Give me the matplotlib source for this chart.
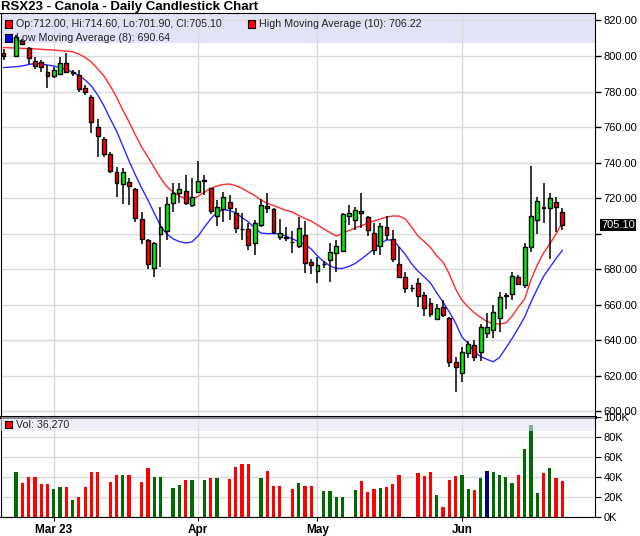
import numpy as np
import pandas as pd
import matplotlib
matplotlib.use("Agg")
import matplotlib.pyplot as plt
from matplotlib.patches import Rectangle
from matplotlib.ticker import FuncFormatter
import matplotlib.transforms as mtransforms

plt.rcParams['font.family'] = ['Liberation Sans', 'DejaVu Sans']

nan = np.nan

# daily bars, one slot per trading day (Feb 17 .. Jun 23, 2023)
opens = [801.9, nan, 800.2, 808.5, 804.3, 797.2, 796.5, 791.0, 788.9, 789.9,
         796.2, 790.7, 789.3, 781.8, 777.1, 759.9, 753.3, 744.7, 734.6, 727.9,
         729.3, 725.0, 708.1, 696.5, 680.6, 699.7, 701.6, 717.1, 722.8, 724.2,
         716.2, 723.7, 729.8, 725.6, 710.0, 713.8, 717.8, 711.5, 702.6, 702.5,
         694.7, 704.9, 715.8, 713.8, 698.0, 698.0, 695.3, 693.2, 699.3, 684.0,
         679.0, 682.9, 685.2, 688.9, 690.3, 710.0, 707.7, 712.8, 709.7, 700.6,
         693.2, 704.0, 696.9, 682.8, 675.9, 669.4, 672.1, 665.6, 660.9, 651.9,
         658.6, 652.5, 628.1, 621.8, 632.8, 637.4, 633.3, 644.4, 645.9, 652.5,
         665.1, 666.0, 675.9, 671.2, 692.7, 707.7, 714.8, 714.7, 717.8, 712.0]
highs = [803.8, nan, 811.8, 809.5, 804.9, 799.6, 797.7, 794.9, 794.0, 799.6,
         801.5, 792.1, 792.1, 783.7, 778.1, 764.4, 754.6, 745.9, 737.7, 737.2,
         731.5, 725.6, 712.4, 696.9, 695.6, 715.2, 720.9, 728.4, 728.4, 733.1,
         731.2, 740.9, 733.1, 726.0, 719.0, 723.7, 722.0, 714.3, 711.7, 706.0,
         707.7, 719.4, 722.8, 714.7, 708.2, 704.0, 701.6, 709.7, 707.2, 686.0,
         687.1, 684.5, 694.7, 696.5, 711.8, 716.2, 715.2, 722.8, 710.0, 705.9,
         706.0, 710.0, 702.1, 692.7, 678.7, 671.0, 674.9, 667.4, 663.7, 660.5,
         662.8, 653.0, 630.9, 636.5, 639.8, 640.2, 649.2, 655.2, 659.9, 667.4,
         666.5, 678.2, 677.0, 694.7, 738.1, 720.9, 728.4, 722.8, 720.5, 714.6]
lows = [797.7, nan, 799.7, 806.0, 795.5, 792.5, 791.2, 781.8, 787.5, 789.3,
        790.3, 788.5, 779.9, 778.1, 756.9, 743.4, 743.4, 734.4, 720.5, 716.6,
        716.0, 706.8, 694.2, 680.0, 675.9, 681.5, 696.5, 712.4, 717.5, 716.2,
        715.2, 722.8, 721.8, 711.0, 704.4, 706.8, 708.0, 700.4, 696.5, 691.0,
        688.0, 704.0, 711.5, 700.0, 696.5, 696.0, 688.9, 691.8, 677.8, 677.5,
        672.1, 681.0, 673.0, 678.7, 689.8, 704.9, 702.1, 703.1, 699.0, 688.0,
        688.0, 696.5, 684.3, 675.0, 666.5, 667.5, 659.0, 653.8, 653.0, 651.5,
        653.0, 625.3, 611.1, 616.8, 629.9, 628.6, 628.6, 641.2, 641.2, 644.9,
        657.5, 662.8, 671.0, 669.3, 689.9, 699.9, 705.9, 685.6, 701.2, 701.9]
closes = [800.2, nan, 810.9, 807.0, 798.7, 794.4, 793.6, 788.9, 792.1, 796.2,
          790.8, 791.0, 781.3, 779.6, 762.7, 755.2, 744.7, 735.5, 728.7, 734.6,
          726.9, 708.7, 696.9, 682.8, 694.7, 704.0, 716.6, 723.1, 725.0, 717.5,
          720.9, 729.4, 730.0, 713.0, 714.9, 720.5, 714.3, 703.1, 702.4, 693.7,
          705.9, 716.2, 714.3, 701.2, 700.3, 697.8, 695.1, 703.1, 683.7, 682.3,
          682.3, 683.1, 689.6, 693.1, 711.0, 711.5, 713.4, 711.5, 702.1, 690.9,
          704.4, 699.3, 685.6, 675.9, 669.3, 669.3, 665.0, 658.1, 654.9, 658.4,
          654.3, 628.1, 624.9, 633.6, 638.0, 630.8, 647.4, 647.4, 656.2, 664.6,
          665.3, 676.5, 671.8, 692.7, 710.2, 718.6, 714.6, 720.3, 714.9, 705.1]
volume = [0, 0, 45300, 34300, 40000, 40000, 33000, 33000, 28000, 30000,
          30000, 17300, 20000, 30000, 45300, 45300, 0, 35300, 42000, 42000,
          42000, 0, 35300, 49000, 40000, 40000, 0, 29000, 32000, 37000,
          37000, 0, 37000, 39000, 39000, 0, 38000, 50000, 53000, 53000,
          0, 39000, 46000, 31000, 31000, 0, 28000, 34000, 31000, 31000,
          0, 26000, 26000, 19700, 19700, 0, 27000, 36000, 25000, 28000,
          29000, 30000, 33000, 42000, 0, 0, 44000, 41000, 45000, 22000,
          10000, 37000, 41000, 42000, 28000, 27000, 39000, 46000, 45000, 42000,
          40000, 34000, 42000, 68000, 92000, 24000, 44000, 49000, 39000, 36270]
high_ma = [804.8, 804.6, 804.5, 804.3, 804.2, 804.0, 803.8, 803.5, 803.4, 803.1,
           802.7, 802.4, 801.1, 799.2, 796.6, 792.7, 788.8, 783.1, 776.9, 769.6,
           762.9, 755.6, 748.8, 743.2, 737.3, 731.4, 726.6, 723.5, 721.2, 719.8,
           719.6, 721.0, 723.5, 725.5, 726.9, 727.7, 728.0, 727.1, 725.5, 723.5,
           721.5, 719.0, 717.1, 715.9, 714.5, 713.1, 712.2, 710.3, 708.6, 707.2,
           704.9, 702.7, 700.7, 698.7, 700.1, 701.8, 703.2, 704.6, 705.9, 707.2,
           708.3, 709.4, 710.0, 709.9, 708.3, 703.8, 698.7, 695.6, 692.3, 687.5,
           684.1, 677.4, 668.9, 662.7, 658.8, 655.4, 652.9, 650.6, 649.5, 649.2,
           649.8, 653.7, 658.8, 663.3, 674.0, 682.4, 689.2, 694.2, 699.9, 706.22]
low_ma = [793.5, 793.7, 794.0, 794.4, 795.2, 795.8, 795.6, 794.9, 794.4, 793.4,
          792.4, 791.0, 789.0, 786.5, 783.1, 778.1, 771.9, 764.6, 757.8, 749.4,
          740.9, 733.1, 725.7, 719.0, 711.7, 704.4, 699.9, 697.1, 695.6, 694.8,
          695.4, 698.7, 703.8, 708.3, 712.2, 713.6, 713.1, 711.7, 709.1, 706.6,
          703.2, 700.4, 700.1, 700.1, 699.9, 698.7, 697.1, 695.6, 694.2, 691.4,
          687.5, 684.4, 681.9, 680.5, 680.5, 681.6, 683.3, 685.8, 688.6, 691.4,
          694.5, 696.5, 696.5, 692.6, 688.3, 683.0, 679.0, 675.7, 672.3, 666.7,
          661.6, 656.0, 649.8, 641.9, 638.3, 633.5, 630.9, 629.3, 628.0, 630.4,
          635.7, 641.1, 647.0, 653.2, 661.6, 668.9, 676.0, 681.0, 686.1, 690.64]

month_pos = [8, 31, 50, 73]
month_labels = ["Mar 23", "Apr", "May", "Jun"]

opens, highs, lows, closes = (np.array(a, dtype=float) for a in (opens, highs, lows, closes))
volume = np.array(volume, dtype=float)
x = np.arange(len(closes))
valid = ~np.isnan(closes)
last = closes[-1]

W, H = 640, 536


def box(l, t, r, b):
    return [l / W, 1 - b / H, (r - l) / W, (b - t) / H]


fig = plt.figure(figsize=(W / 100, H / 100), dpi=100)
ax = fig.add_axes(box(0.5, 13, 595, 417))
axv = fig.add_axes(box(0.5, 417, 595, 517))

grid_c = "#dadada"
band_c = "#e3e3f7"

# price panel
ax.set_xlim(-0.48, 94.2)
ax.set_ylim(596.9, 824.2)
ax.add_patch(Rectangle((0, 1 - 30 / 404), 1, 30 / 404, transform=ax.transAxes,
                       facecolor=band_c, edgecolor="none", zorder=0.5))
ax.set_yticks(np.arange(600, 821, 20))
ax.set_xticks(month_pos)
ax.grid(True, color=grid_c, lw=1, zorder=0)
ax.set_axisbelow(True)
ax.yaxis.tick_right()
# the last-price tag hides the label it sits on
ax.yaxis.set_major_formatter(FuncFormatter(lambda v, p: "" if abs(v - last) < 10 else f"{v:.2f}"))
ax.tick_params(axis="y", length=4, width=1, labelsize=8, pad=2)
ax.tick_params(axis="x", length=0, labelbottom=False)

ax.plot(x, high_ma, color="#ff2a2a", lw=1, zorder=2.5)
ax.plot(x, low_ma, color="#2a2aff", lw=1, zorder=2.5)

ax.vlines(x[valid], lows[valid], highs[valid], color="black", lw=1.1, zorder=3)
up = closes >= opens
body_bottom = np.minimum(opens, closes)
body_h = np.maximum(np.abs(closes - opens), 0.05)
ax.bar(x[valid], body_h[valid], bottom=body_bottom[valid], width=0.62,
       color=np.where(up, "#00ee00", "#ff0000")[valid], edgecolor="black",
       linewidth=1, zorder=4)

# last price tag
trans = mtransforms.blended_transform_factory(ax.transAxes, ax.transData)
ax.text(1.01, last, f"{last:.2f}", transform=trans, fontsize=8,
        color="#fffff0", va="center", ha="left", zorder=10, clip_on=False,
        bbox=dict(boxstyle="square,pad=0.1", facecolor="black", edgecolor="none"))

# volume panel
prev = pd.Series(closes).ffill().shift(1).to_numpy()
diff = closes - prev
vol_colors = np.where(np.abs(diff) < 1e-9, "#000080",
                      np.where(diff > 0, "#006a00", "#ff0000"))
axv.set_xlim(-0.48, 94.2)
axv.set_ylim(0, 100300)
axv.bar(x, volume, width=0.52, color=vol_colors, zorder=2)
axv.add_patch(Rectangle((0, 1 - 14 / 100.3), 1, 14 / 100.3, transform=axv.transAxes,
                        facecolor=band_c, edgecolor="none", alpha=0.6, zorder=3))
axv.set_yticks(np.arange(0, 100001, 20000))
axv.yaxis.set_major_formatter(FuncFormatter(lambda v, p: f"{int(v / 1000)}K"))
axv.yaxis.tick_right()
axv.grid(True, color=grid_c, lw=1, zorder=0)
axv.set_axisbelow(True)
axv.set_xticks(month_pos)
axv.set_xticklabels(month_labels, fontweight="bold", fontsize=8.5)
axv.tick_params(axis="y", length=4, labelsize=8, pad=2)
axv.tick_params(axis="x", length=3, pad=2)
axv.spines["top"].set_linewidth(2.2)
for a in (ax, axv):
    a.set_facecolor("white")
    for s in a.spines.values():
        s.set_color("black")

# title and legends
fig.text(1 / W, 1 - 7 / H, "RSX23 - Canola - Daily Candlestick Chart",
         fontsize=9.5, fontweight="bold", va="center", ha="left")


def key(px, py, color, label):
    fig.patches.append(Rectangle((px / W, 1 - (py + 3.5) / H), 7 / W, 7 / H,
                                 transform=fig.transFigure, facecolor=color,
                                 edgecolor="black", lw=0.8, zorder=20))
    fig.text((px + 11) / W, 1 - py / H, label, fontsize=7.7, va="center",
             ha="left", color="#222222", zorder=21)


key(5, 24, "#ff0000", f"Op:{opens[-1]:.2f}, Hi:{highs[-1]:.2f}, Lo:{lows[-1]:.2f}, Cl:{closes[-1]:.2f}")
key(248, 24, "#ff0000", f"High Moving Average (10): {high_ma[-1]:.2f}")
key(5, 38, "#0000ff", f"Low Moving Average (8): {low_ma[-1]:.2f}")
key(5, 424.5, "#ff0000", f"Vol: {int(volume[-1]):,}")

fig.savefig("out.png", dpi=100)
